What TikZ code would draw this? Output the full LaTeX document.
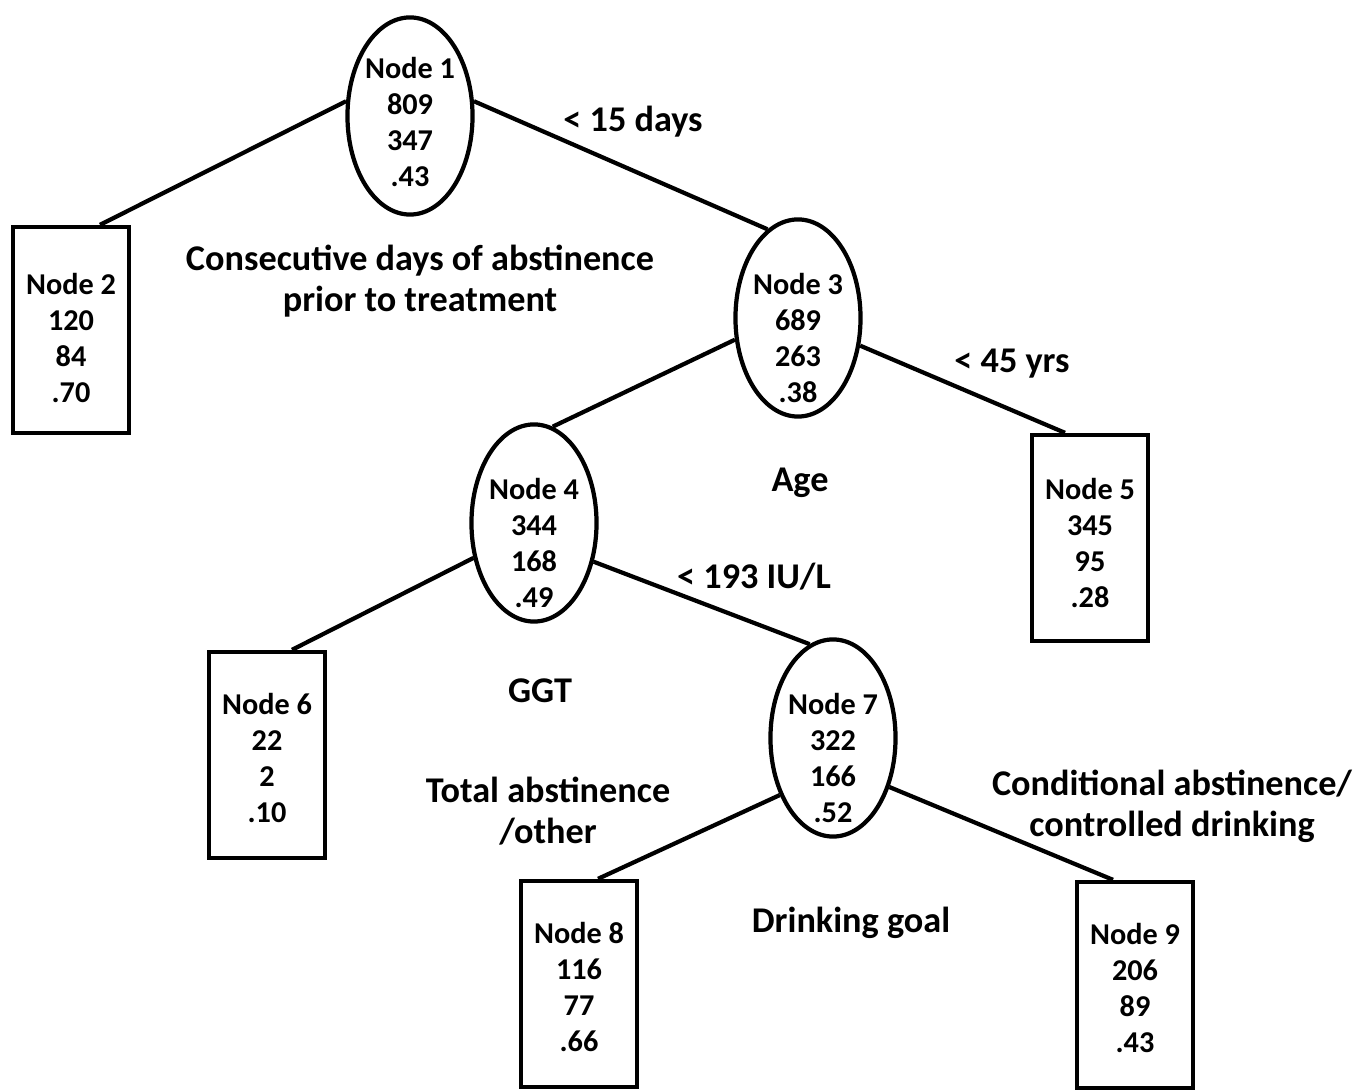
\documentclass[tikz,border=0pt]{standalone}
\usepackage{fontspec}
\setmainfont{Carlito}
\usetikzlibrary{shapes.geometric}

\begin{document}
\begin{tikzpicture}[x=0.01cm,y=-0.01cm,line width=1.2pt,
                font=\bfseries\fontsize{8.6}{10.2}\selectfont,
                split/.style={shape=ellipse,draw=black,inner sep=0pt,minimum width=1.25cm,minimum height=1.97cm},
                leaf/.style={shape=rectangle,draw=black,minimum width=1.16cm,minimum height=2.06cm},
                cnt/.style={align=center},
                lbl/.style={align=center,font=\bfseries\fontsize{10.3}{11.7}\selectfont}]
                \useasboundingbox (0,0) rectangle (1369,1092);
                % tree nodes
                \node[split,label={[cnt,yshift=-0.06cm]center:Node 1\\809\\347\\.43}](n1)at(410, 116){};
                \node[leaf,label={[cnt,yshift=-0.08cm]center:Node 2\\120\\84\\.70}](n2)at(71, 330){};
                \node[split,label={[cnt,yshift=-0.2cm]center:Node 3\\689\\263\\.38}](n3)at(798, 318){};
                \node[split,label={[cnt,yshift=-0.2cm]center:Node 4\\344\\168\\.49}](n4)at(534, 523){};
                \node[leaf,label={[cnt,yshift=-0.05cm]center:Node 5\\345\\95\\.28}](n5)at(1090, 538){};
                \node[leaf,label={[cnt,yshift=-0.03cm]center:Node 6\\22\\2\\.10}](n6)at(267, 755){};
                \node[split,label={[cnt,yshift=-0.2cm]center:Node 7\\322\\166\\.52}](n7)at(833, 738){};
                \node[leaf,label={[cnt,yshift=-0.03cm]center:Node 8\\116\\77\\.66}](n8)at(579, 984){};
                \node[leaf,label={[cnt,yshift=-0.03cm]center:Node 9\\206\\89\\.43}](n9)at(1135, 985){};

                % split labels
                \node[lbl](days)at(633, 122){< 15 days};
                \node[lbl](abst)at(420, 281){Consecutive days of abstinence\\prior to treatment};
                \node[lbl](yrs)at(1012, 364){< 45 yrs};
                \node[lbl](age)at(800, 483){Age};
                \node[lbl](iu)at(754, 577){< 193 IU/L};
                \node[lbl](ggt)at(540, 691){GGT};
                \node[lbl](total)at(548, 811){Total abstinence\\/other};
                \node[lbl](cond)at(1172, 806){Conditional abstinence/\\controlled drinking};
                \node[lbl](goal)at(851, 923){Drinking goal};

                \path[draw]
                (n1.167) edge ([xshift=0.29cm]n2.north)
                (n1.13) edge (n3.109)
                (n3.199) edge (n4.79)
                (n3.336) edge ([xshift=-0.25cm]n5.north)
                (n4.210) edge ([xshift=0.25cm]n6.north)
                (n4.327) edge (n7.104)
                (n7.227) edge ([xshift=0.19cm]n8.north)
                (n7.319) edge ([xshift=-0.22cm]n9.north);
            \end{tikzpicture}
\end{document}
